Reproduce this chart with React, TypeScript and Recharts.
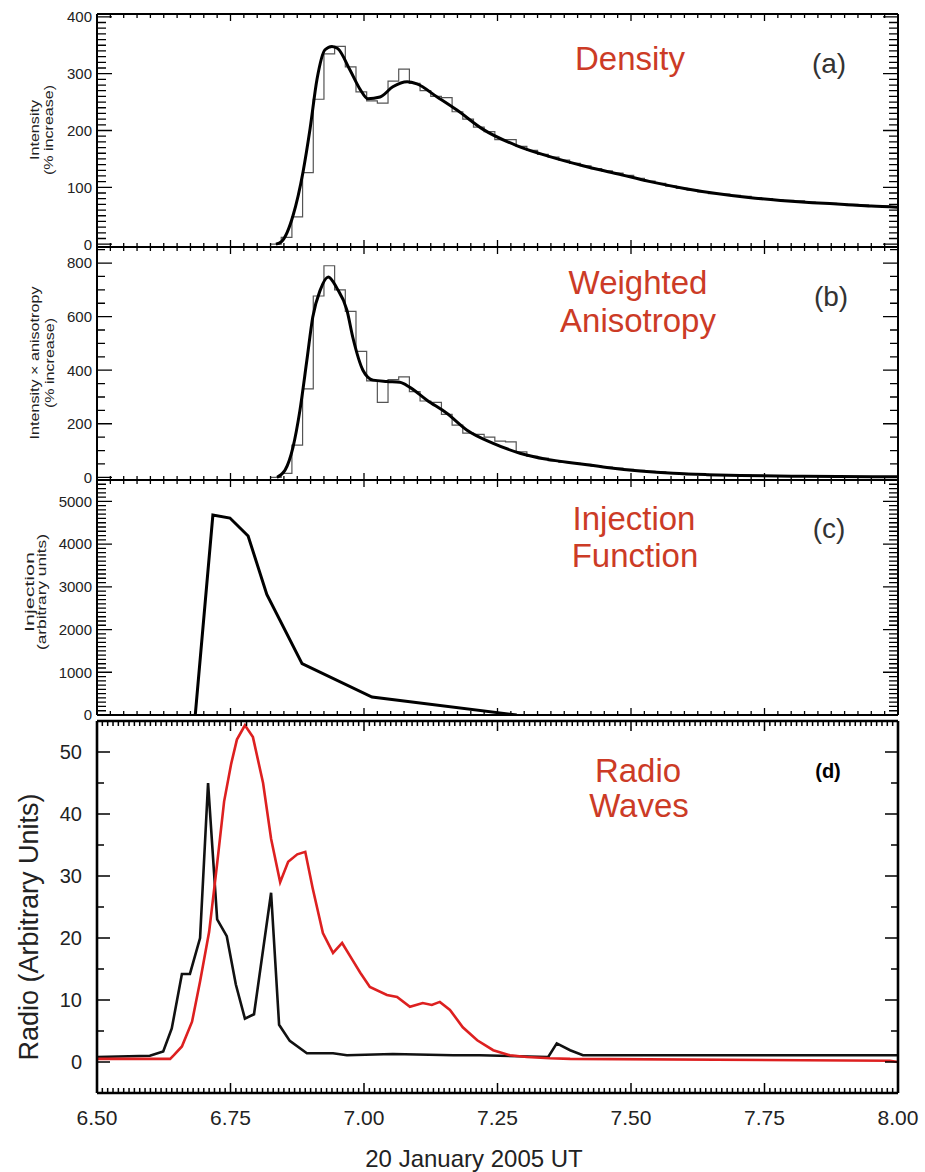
import { LineChart, Line, XAxis, YAxis } from 'recharts'

const FONT = '"Liberation Sans", Arial, Helvetica, sans-serif'
const RED_TEXT = '#cc3b26'

// hours UT, 20 January 2005
const xMajorTicks = [6.5, 6.75, 7.0, 7.25, 7.5, 7.75, 8.0]

// (a) density: fitted curve and 0.02 h bins starting at 6.825
const densityTime = [6.835, 6.846, 6.867, 6.886, 6.899, 6.912, 6.927, 6.94, 6.951, 6.974, 6.993, 7.007, 7.03, 7.054, 7.081, 7.099, 7.137, 7.174, 7.223, 7.287, 7.348, 7.41, 7.474, 7.536, 7.6, 7.66, 7.72, 7.78, 7.84, 7.9, 7.95, 8.0]
const densityFit = [0, 5, 50, 128, 203, 290, 342, 348, 344, 306, 272, 256, 259, 277, 286, 282, 259, 236, 202, 173, 154, 138, 124, 110, 98, 89, 82, 77, 73, 70, 67, 65]
const densityBins = [
  0, 12, 48, 126, 255, 335, 348, 312, 268, 252,
  248, 287, 308, 283, 270, 260, 258, 233, 220, 206,
  198, 184, 184, 172, 165, 158, 153, 148, 142, 138,
  133, 129, 125, 121, 116, 111, 107, 102, 98, 95,
  92, 89, 88, 86, 84, 82, 80, 78, 77, 76,
  74, 73, 72, 71, 70, 69, 68, 67, 66,
]

// (b) weighted anisotropy
const anisoTime = [6.837, 6.852, 6.867, 6.88, 6.893, 6.904, 6.918, 6.933, 6.949, 6.968, 6.979, 6.998, 7.017, 7.043, 7.067, 7.086, 7.118, 7.155, 7.193, 7.242, 7.292, 7.343, 7.399, 7.455, 7.517, 7.579, 7.642, 7.704, 7.816, 7.953, 8.0]
const anisoFit = [0, 26, 112, 250, 437, 598, 699, 748, 707, 624, 523, 400, 363, 358, 355, 336, 288, 239, 176, 127, 90, 67, 52, 37, 24, 15, 10, 7, 4, 2, 2]
const anisoBins = [
  0, 15, 120, 330, 677, 790, 700, 620, 470, 360,
  280, 365, 375, 320, 285, 280, 235, 195, 165, 160,
  150, 135, 132, 95, 78, 72, 62, 56, 52, 48,
  42, 38, 34, 30, 26, 22, 20, 16, 15, 12,
  11, 10, 9, 8, 8, 6, 6, 5, 5, 4,
  4, 6, 3, 3, 2, 2, 2, 2, 2,
]

// (c) injection function
const injectionTime = [6.684, 6.717, 6.749, 6.783, 6.818, 6.884, 7.015, 7.286]
const injection = [0, 4680, 4610, 4190, 2820, 1200, 420, 0]

// (d) radio waves
const radioBlackTime = [6.5, 6.599, 6.624, 6.64, 6.659, 6.674, 6.693, 6.708, 6.725, 6.743, 6.76, 6.777, 6.794, 6.826, 6.841, 6.861, 6.893, 6.942, 6.968, 7.054, 7.167, 7.217, 7.345, 7.361, 7.386, 7.41, 8.0]
const radioBlack = [0.8, 1.0, 1.7, 5.4, 14.2, 14.2, 20, 45, 23, 20.3, 12.5, 7.0, 7.7, 27.3, 6, 3.4, 1.4, 1.4, 1.1, 1.3, 1.1, 1.1, 0.8, 3.0, 1.9, 1.1, 1.1]
const radioRedTime = [6.5, 6.637, 6.644, 6.659, 6.678, 6.693, 6.71, 6.725, 6.738, 6.751, 6.762, 6.777, 6.792, 6.811, 6.826, 6.843, 6.858, 6.875, 6.89, 6.904, 6.923, 6.942, 6.959, 6.978, 6.993, 7.011, 7.043, 7.062, 7.086, 7.11, 7.127, 7.142, 7.161, 7.185, 7.212, 7.242, 7.273, 7.305, 7.348, 7.386, 7.985, 8.0]
const radioRed = [0.5, 0.5, 1.1, 2.5, 6.5, 13, 21, 32, 42, 48, 52, 54.3, 52.4, 45, 36, 29, 32.3, 33.5, 33.9, 28, 20.8, 17.6, 19.2, 16.5, 14.4, 12.1, 10.8, 10.5, 8.9, 9.5, 9.2, 9.7, 8.4, 5.6, 3.5, 1.9, 1.1, 0.8, 0.6, 0.5, 0.2, 0]

const BIN_START = 6.825
const BIN_WIDTH = 0.02
const X_DOMAIN: [number, number] = [6.5, 8]
const PLOT_LEFT = 97
const PLOT_WIDTH = 925 - 97 - 27

const range = (a: number, b: number, s: number) => {
  const out: number[] = []
  for (let v = a; v <= b + 1e-9; v += s) out.push(+v.toFixed(4))
  return out
}
const pts = (xs: number[], ys: number[]) => xs.map((x, i) => ({ x, y: ys[i] }))
const steps = (ys: number[]) => {
  const p = ys.map((y, i) => ({ x: +(BIN_START + i * BIN_WIDTH).toFixed(3), y }))
  p.push({ x: 8.0, y: ys[ys.length - 1] })
  return p
}
const isIn = (list: number[], v: number) => list.some((m) => Math.abs(m - v) < 1e-6)

type LabelOpt = { size: number; gap: number; digits: number }

function makeLabel(side: 'bottom' | 'left', label: LabelOpt) {
  return (props: any) => {
    const x = Number(props.x)
    const y = Number(props.y)
    const v = Number(props.payload.value)
    return side === 'bottom' ? (
      <text x={x} y={y + label.gap} textAnchor="middle" fontSize={label.size} fontFamily={FONT} fill="#222">
        {v.toFixed(label.digits)}
      </text>
    ) : (
      <text x={x - label.gap} y={y} dy="0.36em" textAnchor="end" fontSize={label.size} fontFamily={FONT} fill="#222">
        {v.toFixed(label.digits)}
      </text>
    )
  }
}

type PanelCfg = {
  plotTop: number
  plotBottom: number
  pad: number
  yDomain: [number, number]
  yTicks: number[]
  yMajors: number[]
  xTicks: number[]
  xLen: [number, number]
  yLen: [number, number]
  frame: number
  tickWidth: number
  yLabel: LabelOpt
  xLabel?: LabelOpt
}

const smallY: LabelOpt = { size: 15, gap: 5, digits: 0 }
const coarseX = range(6.5, 8, 0.025)
const fineX = range(6.5, 8, 0.01)

const panelA: PanelCfg = {
  plotTop: 14, plotBottom: 247, pad: 13, yDomain: [-5, 405],
  yTicks: range(0, 400, 10), yMajors: [0, 100, 200, 300, 400],
  xTicks: coarseX, xLen: [7, 4], yLen: [15, 9], frame: 2, tickWidth: 1.3, yLabel: smallY,
}
const panelB: PanelCfg = {
  plotTop: 247, plotBottom: 480, pad: 13, yDomain: [-10, 860],
  yTicks: range(0, 850, 50), yMajors: [0, 200, 400, 600, 800],
  xTicks: coarseX, xLen: [7, 4], yLen: [15, 8], frame: 2, tickWidth: 1.3, yLabel: smallY,
}
const panelC: PanelCfg = {
  plotTop: 480, plotBottom: 715, pad: 13, yDomain: [0, 5500],
  yTicks: range(0, 5400, 100), yMajors: [0, 1000, 2000, 3000, 4000, 5000],
  xTicks: coarseX, xLen: [7, 4], yLen: [15, 9], frame: 2, tickWidth: 1.3, yLabel: smallY,
}
const panelD: PanelCfg = {
  plotTop: 721, plotBottom: 1093, pad: 79, yDomain: [-5, 55],
  yTicks: range(0, 50, 5), yMajors: [0, 10, 20, 30, 40, 50],
  xTicks: fineX, xLen: [10, 5], yLen: [13, 7], frame: 2.6, tickWidth: 1.5,
  yLabel: { size: 20, gap: 15, digits: 0 }, xLabel: { size: 21, gap: 32, digits: 2 },
}

function Panel(p: PanelCfg & { children: React.ReactNode }) {
  const chartTop = p.plotTop - 14
  const height = p.plotBottom + p.pad - chartTop
  const axisLine = { stroke: '#000', strokeWidth: p.frame }
  const shared = { type: 'number' as const, allowDataOverflow: true, interval: 0 as const, tickSize: 0, tickMargin: 0, tickLine: false, axisLine }
  return (
    <div style={{ position: 'absolute', left: 0, top: chartTop }}>
      <LineChart width={925} height={height} margin={{ top: 13, right: 0, bottom: p.pad - 1, left: 0 }}>
        <XAxis {...shared} xAxisId="b" dataKey="x" domain={X_DOMAIN} ticks={xMajorTicks} height={1} tick={p.xLabel ? makeLabel('bottom', p.xLabel) : false} />
        <XAxis {...shared} xAxisId="t" orientation="top" dataKey="x" domain={X_DOMAIN} height={1} tick={false} />
        <YAxis {...shared} yAxisId="l" domain={p.yDomain} ticks={p.yMajors} width={97} tick={makeLabel('left', p.yLabel)} />
        <YAxis {...shared} yAxisId="r" orientation="right" domain={p.yDomain} width={27} tick={false} />
        {p.children}
      </LineChart>
    </div>
  )
}

// inward IDL-style tick marks on all four sides, same linear mapping as the panel's axes
function TickMarks({ p }: { p: PanelCfg }) {
  const [y0, y1] = p.yDomain
  const sx = (v: number) => PLOT_LEFT + ((v - X_DOMAIN[0]) / (X_DOMAIN[1] - X_DOMAIN[0])) * PLOT_WIDTH
  const sy = (v: number) => p.plotBottom - ((v - y0) / (y1 - y0)) * (p.plotBottom - p.plotTop)
  let d = ''
  for (const v of p.xTicks) {
    const l = isIn(xMajorTicks, v) ? p.xLen[0] : p.xLen[1]
    const x = sx(v).toFixed(2)
    d += `M${x},${p.plotBottom}v${-l}M${x},${p.plotTop}v${l}`
  }
  for (const v of p.yTicks) {
    const l = isIn(p.yMajors, v) ? p.yLen[0] : p.yLen[1]
    const y = sy(v).toFixed(2)
    d += `M${PLOT_LEFT},${y}h${l}M${PLOT_LEFT + PLOT_WIDTH},${y}h${-l}`
  }
  return <path d={d} stroke="#000" strokeWidth={p.tickWidth} fill="none" />
}

export default function App() {
  return (
    <div style={{ position: 'absolute', left: 0, top: 0, width: 925, height: 1172, background: '#fff' }}>
      <Panel {...panelA}>
        <Line data={steps(densityBins)} dataKey="y" xAxisId="b" yAxisId="l" type="stepAfter" stroke="#555" strokeWidth={1.2} dot={false} isAnimationActive={false} />
        <Line data={pts(densityTime, densityFit)} dataKey="y" xAxisId="b" yAxisId="l" type="monotone" stroke="#000" strokeWidth={3} dot={false} isAnimationActive={false} />
      </Panel>

      <Panel {...panelB}>
        <Line data={steps(anisoBins)} dataKey="y" xAxisId="b" yAxisId="l" type="stepAfter" stroke="#555" strokeWidth={1.2} dot={false} isAnimationActive={false} />
        <Line data={pts(anisoTime, anisoFit)} dataKey="y" xAxisId="b" yAxisId="l" type="monotone" stroke="#000" strokeWidth={3} dot={false} isAnimationActive={false} />
      </Panel>

      <Panel {...panelC}>
        <Line data={pts(injectionTime, injection)} dataKey="y" xAxisId="b" yAxisId="l" type="linear" stroke="#000" strokeWidth={3} dot={false} isAnimationActive={false} />
      </Panel>

      <Panel {...panelD}>
        <Line data={pts(radioBlackTime, radioBlack)} dataKey="y" xAxisId="b" yAxisId="l" type="linear" stroke="#111" strokeWidth={2.6} dot={false} isAnimationActive={false} />
        <Line data={pts(radioRedTime, radioRed)} dataKey="y" xAxisId="b" yAxisId="l" type="linear" stroke="#dd2020" strokeWidth={2.6} dot={false} isAnimationActive={false} />
      </Panel>

      <svg width={925} height={1172} style={{ position: 'absolute', left: 0, top: 0, pointerEvents: 'none' }} fontFamily={FONT}>
        <TickMarks p={panelA} />
        <TickMarks p={panelB} />
        <TickMarks p={panelC} />
        <TickMarks p={panelD} />

        <g fill={RED_TEXT} fontSize={33} textAnchor="middle">
          <text x={630} y={70}>Density</text>
          <text x={638} y={294}>Weighted</text>
          <text x={638} y={332}>Anisotropy</text>
          <text x={634} y={530}>Injection</text>
          <text x={635} y={567}>Function</text>
          <text x={638} y={782}>Radio</text>
          <text x={639} y={817}>Waves</text>
        </g>
        <g fill="#333" fontSize={28} textAnchor="middle">
          <text x={829} y={73}>(a)</text>
          <text x={831} y={306}>(b)</text>
          <text x={829} y={538}>(c)</text>
        </g>
        <text x={828} y={778} textAnchor="middle" fontSize={20} fontWeight="bold" fill="#000">(d)</text>

        <g fill="#222" fontSize={13} textAnchor="middle">
          <g transform="translate(0,130) rotate(-90)">
            <text x={0} y={39} textLength={60} lengthAdjust="spacingAndGlyphs">Intensity</text>
            <text x={0} y={53} textLength={90} lengthAdjust="spacingAndGlyphs">(% increase)</text>
          </g>
          <g transform="translate(0,363) rotate(-90)">
            <text x={0} y={39} textLength={153} lengthAdjust="spacingAndGlyphs">Intensity × anisotropy</text>
            <text x={0} y={54} textLength={90} lengthAdjust="spacingAndGlyphs">(% increase)</text>
          </g>
          <g transform="translate(0,592) rotate(-90)">
            <text x={0} y={34} textLength={80} lengthAdjust="spacingAndGlyphs">Injection</text>
            <text x={0} y={46} textLength={116} lengthAdjust="spacingAndGlyphs">(arbitrary units)</text>
          </g>
        </g>

        <text transform="translate(38,927) rotate(-90)" textAnchor="middle" fontSize={27} fill="#222">
          Radio (Arbitrary Units)
        </text>
        <text x={474} y={1167} textAnchor="middle" fontSize={24} fill="#222">
          20 January 2005 UT
        </text>
      </svg>
    </div>
  )
}
